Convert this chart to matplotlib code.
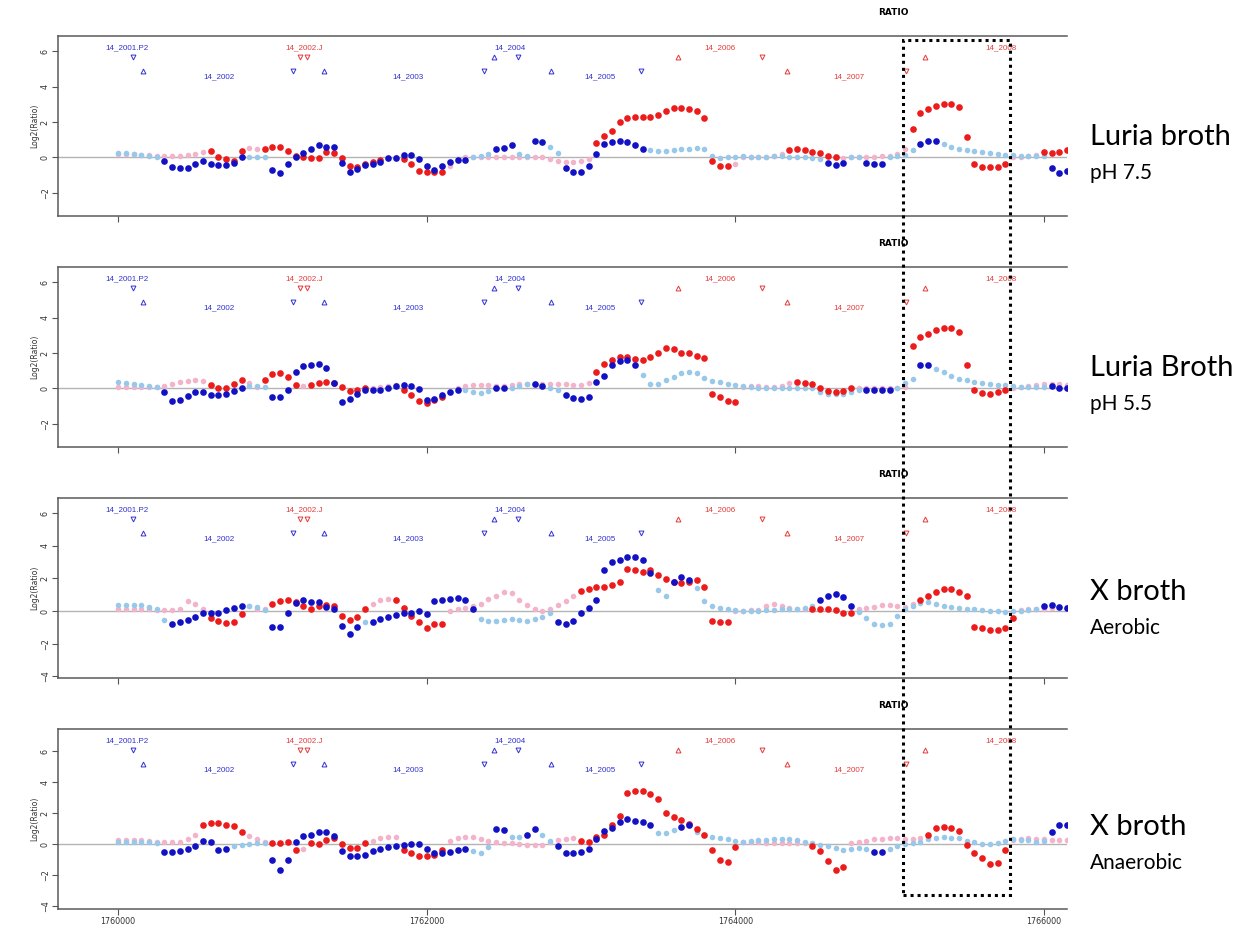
import numpy as np
import matplotlib.pyplot as plt
import matplotlib.transforms as mtransforms
from matplotlib.patches import Rectangle

# posiciones en el genoma (pb), una sonda cada 50 pb
pos = np.arange(1760000, 1766200, 50)

# Log2(Ratio) de cada panel: serie azul y serie roja
p1_azul = [0.25, 0.25, 0.2, 0.15, 0.1, 0.05, -0.2, -0.55, -0.6, -0.6,
           -0.35, -0.2, -0.4, -0.45, -0.45, -0.3, 0.0, 0.05, 0.0, 0.0,
           -0.7, -0.9, -0.4, 0.05, 0.25, 0.45, 0.7, 0.6, 0.6, -0.3,
           -0.8, -0.65, -0.45, -0.35, -0.25, -0.05, -0.05, 0.15, 0.15, -0.1,
           -0.5, -0.7, -0.5, -0.25, -0.17, -0.17, 0.05, 0.1, 0.2, 0.5,
           0.55, 0.7, 0.2, 0.1, 0.9, 0.85, 0.6, 0.25, -0.6, -0.8,
           -0.8, -0.5, 0.2, 0.75, 0.85, 0.95, 0.85, 0.7, 0.5, 0.4,
           0.35, 0.35, 0.4, 0.45, 0.5, 0.55, 0.5, 0.1, -0.05, 0.0,
           0.05, 0.1, 0.05, 0.0, 0.05, 0.1, 0.1, 0.05, 0.05, 0.0,
           -0.05, -0.1, -0.3, -0.45, -0.3, 0.0, 0.0, -0.3, -0.4, -0.35,
           0.0, 0.1, 0.15, 0.4, 0.75, 0.95, 0.9, 0.75, 0.6, 0.5,
           0.4, 0.35, 0.3, 0.25, 0.2, 0.15, 0.15, 0.1, 0.1, 0.1,
           0.1, -0.6, -0.9, -0.75]
p1_rojo = [0.2, 0.2, 0.2, 0.15, 0.15, 0.1, 0.1, 0.1, 0.1, 0.15,
           0.2, 0.3, 0.35, 0.05, -0.1, -0.2, 0.35, 0.55, 0.45, 0.5,
           0.6, 0.6, 0.35, 0.1, 0.0, -0.05, -0.05, 0.3, 0.25, -0.05,
           -0.5, -0.55, -0.35, -0.25, -0.15, -0.05, 0.0, -0.1, -0.4, -0.75,
           -0.85, -0.85, -0.8, -0.5, -0.1, 0.0, 0.0, 0.05, 0.0, 0.0,
           0.0, 0.05, 0.05, 0.0, 0.0, 0.0, -0.1, -0.2, -0.25, -0.25,
           -0.2, -0.1, 0.8, 1.2, 1.5, 2.0, 2.25, 2.3, 2.3, 2.3,
           2.4, 2.65, 2.8, 2.8, 2.75, 2.6, 2.25, -0.2, -0.5, -0.5,
           -0.4, 0.0, 0.0, 0.0, 0.05, 0.1, 0.2, 0.4, 0.5, 0.4,
           0.3, 0.25, 0.1, 0.0, -0.05, 0.0, 0.05, 0.05, 0.05, 0.1,
           0.1, 0.2, 0.5, 1.6, 2.5, 2.75, 2.9, 3.0, 3.0, 2.85,
           1.15, -0.4, -0.55, -0.55, -0.55, -0.35, 0.0, 0.05, 0.1, 0.15,
           0.3, 0.25, 0.3, 0.4]

p2_azul = [0.35, 0.3, 0.25, 0.2, 0.15, 0.1, -0.2, -0.7, -0.65, -0.45,
           -0.2, -0.2, -0.4, -0.4, -0.3, -0.15, 0.05, 0.15, 0.15, 0.1,
           -0.5, -0.5, -0.1, 0.9, 1.25, 1.3, 1.4, 1.15, 0.3, -0.75,
           -0.6, -0.3, -0.1, -0.1, -0.1, 0.0, 0.15, 0.17, 0.15, -0.05,
           -0.65, -0.6, -0.4, -0.2, -0.1, -0.1, -0.2, -0.25, -0.15, 0.0,
           0.0, 0.05, 0.15, 0.25, 0.25, 0.15, 0.0, -0.1, -0.35, -0.55,
           -0.6, -0.5, 0.35, 0.7, 1.35, 1.55, 1.6, 1.3, 0.75, 0.25,
           0.25, 0.45, 0.65, 0.85, 0.9, 0.85, 0.6, 0.4, 0.35, 0.25,
           0.2, 0.15, 0.1, 0.05, 0.0, 0.0, 0.05, 0.05, 0.05, 0.0,
           0.0, -0.2, -0.3, -0.3, -0.3, -0.2, -0.1, -0.1, -0.1, -0.1,
           -0.1, 0.0, 0.3, 0.55, 1.3, 1.3, 1.1, 0.9, 0.7, 0.55,
           0.45, 0.36, 0.3, 0.27, 0.22, 0.17, 0.12, 0.1, 0.08, 0.08,
           0.1, 0.15, 0.0, 0.0]
p2_rojo = [0.1, 0.1, 0.1, 0.1, 0.1, 0.1, 0.15, 0.25, 0.35, 0.4,
           0.45, 0.4, 0.2, 0.0, 0.05, 0.25, 0.45, 0.3, 0.1, 0.5,
           0.8, 0.85, 0.65, 0.2, 0.15, 0.17, 0.3, 0.35, 0.3, 0.1,
           -0.15, -0.1, 0.0, 0.05, 0.1, 0.15, 0.17, -0.1, -0.4, -0.7,
           -0.8, -0.65, -0.5, -0.2, 0.05, 0.15, 0.17, 0.17, 0.17, 0.15,
           0.15, 0.2, 0.25, 0.27, 0.27, 0.27, 0.27, 0.27, 0.25, 0.2,
           0.2, 0.3, 0.9, 1.4, 1.6, 1.8, 1.75, 1.65, 1.6, 1.8,
           2.0, 2.3, 2.25, 2.0, 2.0, 1.85, 1.7, -0.3, -0.5, -0.7,
           -0.75, 0.1, 0.15, 0.15, 0.1, 0.1, 0.15, 0.3, 0.36, 0.3,
           0.25, 0.05, -0.15, -0.2, -0.15, 0.0, 0.05, 0.05, 0.05, 0.05,
           0.05, 0.05, 0.1, 2.4, 2.9, 3.1, 3.3, 3.4, 3.4, 3.2,
           1.3, -0.1, -0.25, -0.3, -0.2, -0.1, 0.05, 0.1, 0.15, 0.2,
           0.25, 0.27, 0.25, 0.2]

p3_azul = [0.35, 0.35, 0.35, 0.35, 0.25, 0.1, -0.55, -0.8, -0.65, -0.55,
           -0.35, -0.1, -0.15, -0.1, 0.05, 0.2, 0.3, 0.3, 0.25, 0.05,
           -1.0, -1.0, -0.1, 0.5, 0.65, 0.55, 0.55, 0.25, 0.15, -0.9,
           -1.4, -0.95, -0.7, -0.7, -0.5, -0.35, -0.25, -0.15, -0.1, 0.0,
           -0.2, 0.6, 0.7, 0.75, 0.8, 0.7, 0.15, -0.5, -0.6, -0.6,
           -0.55, -0.5, -0.55, -0.6, -0.5, -0.35, -0.15, -0.65, -0.8, -0.6,
           -0.1, 0.2, 0.65, 2.5, 3.0, 3.1, 3.3, 3.3, 3.1, 2.3,
           1.3, 0.9, 1.8, 2.1, 1.9, 1.4, 0.6, 0.3, 0.2, 0.1,
           0.05, 0.0, 0.0, 0.0, 0.05, 0.05, 0.1, 0.12, 0.15, 0.2,
           0.3, 0.65, 0.95, 1.06, 0.85, 0.3, -0.05, -0.45, -0.8, -0.86,
           -0.8, -0.3, 0.1, 0.3, 0.5, 0.55, 0.4, 0.3, 0.22, 0.2,
           0.15, 0.12, 0.08, 0.02, 0.0, -0.04, -0.02, 0.0, 0.05, 0.12,
           0.3, 0.35, 0.25, 0.2]
p3_rojo = [0.15, 0.15, 0.15, 0.15, 0.15, 0.05, 0.05, 0.05, 0.1, 0.6,
           0.4, 0.1, -0.4, -0.6, -0.75, -0.65, -0.2, 0.3, 0.15, 0.1,
           0.4, 0.6, 0.65, 0.55, 0.3, 0.15, 0.3, 0.35, 0.3, -0.3,
           -0.55, -0.35, 0.15, 0.45, 0.65, 0.75, 0.65, 0.2, -0.3, -0.65,
           -1.05, -0.8, -0.8, 0.0, 0.1, 0.2, 0.3, 0.45, 0.75, 0.95,
           1.15, 1.1, 0.7, 0.35, 0.1, 0.0, 0.1, 0.35, 0.6, 0.9,
           1.2, 1.35, 1.45, 1.5, 1.6, 1.75, 2.55, 2.5, 2.4, 2.5,
           2.2, 1.95, 1.75, 1.7, 1.75, 1.9, 1.5, -0.6, -0.7, -0.65,
           0.0, 0.03, 0.05, 0.06, 0.3, 0.45, 0.3, 0.16, 0.15, 0.15,
           0.15, 0.15, 0.1, 0.05, -0.1, -0.15, 0.15, 0.2, 0.27, 0.35,
           0.37, 0.3, 0.27, 0.45, 0.7, 0.9, 1.15, 1.35, 1.35, 1.15,
           0.95, -1.0, -1.05, -1.15, -1.15, -1.05, -0.4, 0.05, 0.1, 0.12,
           0.15, 0.2, 0.27, 0.25]

p4_azul = [0.15, 0.15, 0.15, 0.1, 0.1, 0.05, -0.5, -0.5, -0.45, -0.3,
           -0.1, 0.2, 0.15, -0.4, -0.35, -0.15, -0.05, 0.0, 0.05, 0.05,
           -1.0, -1.65, -1.0, 0.15, 0.5, 0.6, 0.75, 0.8, 0.55, -0.45,
           -0.8, -0.8, -0.7, -0.45, -0.3, -0.2, -0.1, -0.05, 0.0, 0.0,
           -0.3, -0.55, -0.55, -0.5, -0.4, -0.3, -0.45, -0.6, -0.2, 0.95,
           0.9, 0.45, 0.45, 0.6, 0.95, 0.6, 0.2, -0.1, -0.55, -0.6,
           -0.5, -0.35, 0.3, 0.85, 1.05, 1.4, 1.6, 1.5, 1.4, 1.2,
           0.7, 0.7, 0.9, 1.12, 1.2, 0.8, 0.6, 0.45, 0.37, 0.3,
           0.18, 0.15, 0.2, 0.25, 0.26, 0.3, 0.35, 0.3, 0.25, 0.15,
           0.05, -0.05, -0.1, -0.25, -0.39, -0.35, -0.28, -0.3, -0.5, -0.5,
           -0.3, -0.15, 0.0, 0.05, 0.15, 0.3, 0.4, 0.47, 0.42, 0.37,
           0.2, 0.1, 0.02, 0.0, 0.08, 0.2, 0.3, 0.28, 0.26, 0.15,
           0.2, 0.75, 1.25, 1.25]
p4_rojo = [0.25, 0.25, 0.25, 0.25, 0.2, 0.15, 0.15, 0.15, 0.15, 0.3,
           0.6, 1.2, 1.33, 1.33, 1.25, 1.15, 0.8, 0.5, 0.3, 0.15,
           0.04, 0.04, 0.15, -0.4, -0.3, 0.04, 0.0, 0.25, 0.4, 0.0,
           -0.25, -0.28, 0.04, 0.2, 0.37, 0.45, 0.47, -0.4, -0.6, -0.78,
           -0.8, -0.7, -0.4, 0.2, 0.4, 0.47, 0.45, 0.3, 0.2, 0.15,
           0.08, 0.04, 0.0, -0.03, -0.05, -0.06, 0.1, 0.25, 0.3, 0.37,
           0.2, 0.15, 0.45, 0.6, 1.2, 1.8, 3.3, 3.4, 3.45, 3.2,
           2.9, 2.0, 1.75, 1.55, 1.3, 1.0, 0.6, -0.4, -1.0, -1.14,
           -0.2, 0.15, 0.12, 0.1, 0.08, 0.06, 0.05, 0.04, 0.04, 0.04,
           -0.15, -0.45, -1.1, -1.65, -1.5, 0.04, 0.1, 0.2, 0.3, 0.35,
           0.37, 0.37, 0.35, 0.35, 0.4, 0.6, 1.05, 1.12, 1.05, 0.85,
           -0.06, -0.6, -0.92, -1.3, -1.2, -0.4, 0.26, 0.3, 0.37, 0.35,
           0.3, 0.26, 0.25, 0.25]

# tramos de sondas significativas (indices inicio, fin) -> color fuerte
p1_sig_azul = [(6, 16), (20, 45), (49, 51), (54, 55), (58, 68), (92, 94), (97, 99), (104, 106), (121, 123)]
p1_sig_rojo = [(12, 16), (19, 34), (37, 42), (62, 79), (87, 93), (103, 115), (120, 123)]
p2_sig_azul = [(6, 16), (20, 44), (49, 50), (54, 55), (58, 67), (97, 100), (104, 105), (121, 123)]
p2_sig_rojo = [(12, 16), (19, 23), (25, 32), (37, 42), (62, 80), (88, 95), (103, 115)]
p3_sig_azul = [(7, 16), (20, 31), (33, 46), (57, 69), (72, 74), (91, 95), (120, 123)]
p3_sig_rojo = [(12, 16), (20, 32), (36, 42), (60, 79), (90, 95), (104, 116)]
p4_sig_azul = [(6, 14), (20, 45), (49, 50), (53, 54), (57, 69), (73, 74), (98, 99), (121, 123)]
p4_sig_rojo = [(11, 16), (20, 23), (25, 32), (37, 42), (60, 80), (90, 94), (105, 115)]

# genes anotados
genes_nombre = ['14_2001.P2', '14_2002', '14_2002.J', '14_2003', '14_2004',
                '14_2005', '14_2006', '14_2007', '14_2008']
genes_pos = [1760058, 1760656, 1761208, 1761877, 1762539, 1763123, 1763903, 1764734, 1765721]
genes_fila = [0, 1, 0, 1, 0, 1, 0, 1, 0]
genes_color = ['b', 'b', 'r', 'b', 'b', 'b', 'r', 'r', 'r']

# triangulos (inicio / fin de gen)
flechas_pos = [1760097, 1760162, 1761180, 1761225, 1761130, 1761331, 1762435, 1762591,
               1762370, 1762805, 1763390, 1763630, 1764175, 1764338, 1765104, 1765227]
flechas_tipo = ['v', '^', 'v', 'v', 'v', '^', '^', 'v', 'v', '^', 'v', '^', 'v', '^', 'v', '^']
flechas_fila = [0, 1, 0, 0, 1, 1, 0, 0, 1, 1, 1, 0, 0, 1, 1, 0]
flechas_color = ['b', 'b', 'r', 'r', 'b', 'b', 'b', 'b', 'b', 'b', 'b', 'r', 'r', 'r', 'r', 'r']

marcas_x = [1760000, 1762000, 1764000, 1766000]

condicion = ['Luria broth', 'Luria Broth', 'X broth', 'X broth']
detalle = ['pH 7.5', 'pH 5.5', 'Aerobic', 'Anaerobic']

azules = [p1_azul, p2_azul, p3_azul, p4_azul]
rojos = [p1_rojo, p2_rojo, p3_rojo, p4_rojo]
sig_azules = [p1_sig_azul, p2_sig_azul, p3_sig_azul, p4_sig_azul]
sig_rojos = [p1_sig_rojo, p2_sig_rojo, p3_sig_rojo, p4_sig_rojo]


def mascara(tramos):
    m = np.zeros(len(pos), dtype=bool)
    for a, b in tramos:
        m[a:b + 1] = True
    return m


colores = {'b': '#3030d0', 'r': '#e43a3a'}
fila_texto = [0.935, 0.772]
fila_flecha = [0.882, 0.805]

W, H = 1247, 932
fig = plt.figure(figsize=(W / 100, H / 100), dpi=100)

fondos = [216, 447, 678, 909]  # borde inferior de cada panel (px)
limites_y = [(-3.31, 6.86), (-3.31, 6.86), (-4.1, 6.92), (-4.19, 7.42)]
centro_txt = [137, 368, 592, 827]

for k in range(4):
    ax = fig.add_axes([58 / W, 1 - fondos[k] / H, 1009 / W, 180 / H])
    a = np.array(azules[k])
    r = np.array(rojos[k])
    ma = mascara(sig_azules[k])
    mr = mascara(sig_rojos[k])

    ax.axhline(0, color='#b4b4b4', lw=1.0, zorder=1)
    ax.plot(pos[~mr], r[~mr], 'o', color='#f3b3cb', ms=4.0, mec='none', zorder=2)
    ax.plot(pos[~ma], a[~ma], 'o', color='#98c8ea', ms=4.0, mec='none', zorder=2)
    ax.plot(pos[mr], r[mr], 'o', color='#ec1c1c', ms=4.8, mec='none', zorder=3)
    ax.plot(pos[ma], a[ma], 'o', color='#1212c4', ms=4.8, mec='none', zorder=4)

    # anotaciones de genes
    tr = mtransforms.blended_transform_factory(ax.transData, ax.transAxes)
    for n, x, f, c in zip(genes_nombre, genes_pos, genes_fila, genes_color):
        ax.text(x, fila_texto[f], n, transform=tr, fontsize=5.8, color=colores[c],
                ha='center', va='center', family='Liberation Sans')
    for x, t, f, c in zip(flechas_pos, flechas_tipo, flechas_fila, flechas_color):
        ax.plot([x], [fila_flecha[f]], t, transform=tr, ms=3.5, mfc='none',
                mec=colores[c], mew=0.7, zorder=5)

    ax.set_xlim(1759610, 1766150)
    ax.set_ylim(limites_y[k])
    ax.set_xticks(marcas_x)
    ax.set_yticks([t for t in [-4, -2, 0, 2, 4, 6] if t > limites_y[k][0]])
    ax.tick_params(axis='both', length=4, width=0.8, color='#555555', labelsize=5.8,
                   labelcolor='#333333', pad=2)
    ax.tick_params(axis='y', labelrotation=90)
    for lab in ax.get_yticklabels():
        lab.set_va('center')
    if k < 3:
        ax.set_xticklabels([])
    else:
        ax.set_xticklabels([str(t) for t in marcas_x])
    ax.spines['right'].set_visible(False)
    for s in ['left', 'top', 'bottom']:
        ax.spines[s].set_color('#5a5a5a')
        ax.spines[s].set_linewidth(1.1)

    ax.text(-0.023, 0.5, 'Log2(Ratio)', transform=ax.transAxes, rotation=90,
            fontsize=5.5, color='#333333', ha='center', va='center')
    ax.text(0.8276, 1.133, 'RATIO', transform=ax.transAxes, fontsize=6.5,
            fontweight='bold', ha='center', va='center')

    fig.text(1090 / W, 1 - centro_txt[k] / H, condicion[k], fontsize=21,
             family='Lato', va='center', ha='left')
    fig.text(1090 / W, 1 - (centro_txt[k] + 36) / H, detalle[k], fontsize=15,
             family='Lato', va='center', ha='left')

# recuadro punteado sobre la region de 14_2008
fig.add_artist(Rectangle((903 / W, 1 - 895 / H), 107 / W, 855 / H, fill=False,
                         ls=(0, (1, 1.3)), lw=2.2, ec='black',
                         transform=fig.transFigure, zorder=10))

plt.savefig('out.png', dpi=100)
